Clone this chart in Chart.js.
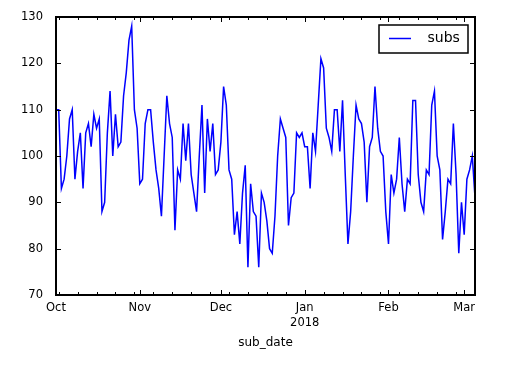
<!DOCTYPE html>
<html>
<head>
<meta charset="utf-8">
<script src="https://cdn.jsdelivr.net/npm/chart.js@4.4.1/dist/chart.umd.min.js"></script>
<style>
  html, body { margin: 0; padding: 0; background: #fff; }
  #wrap { width: 505px; height: 367px; }
</style>
</head>
<body>
<div id="wrap"><canvas id="chart" width="505" height="367"></canvas></div>
<script>
// daily subs, starting 2017-10-01 (day 0) through 2018-03-05 (day 155)
const subs = [
  110, 110, 93, 95, 100, 108, 110, 95, 101, 105,
  93, 105, 107, 102, 109, 106, 108, 88, 90, 105,
  114, 100, 109, 102, 103, 113, 118, 125, 128, 110,
  106, 94, 95, 107, 110, 110, 103, 97, 93, 87,
  100, 113, 107, 104, 84, 97, 95, 107, 99, 107,
  96, 92, 88, 100, 111, 92, 108, 101, 107, 96,
  97, 103, 115, 111, 97, 95, 83, 88, 81, 92,
  98, 76, 94, 88, 87, 76, 92, 90, 86, 80,
  79, 87, 100, 108, 106, 104, 85, 91, 92, 105,
  104, 105, 102, 102, 93, 105, 101, 111, 121, 119,
  106, 104, 101, 110, 110, 101, 112, 96, 81, 88,
  100, 111, 108, 107, 103, 90, 102, 104, 115, 106,
  101, 100, 88, 81, 96, 92, 95, 104, 94, 88,
  95, 94, 112, 112, 96, 90, 88, 97, 96, 111,
  114, 100, 97, 82, 88, 95, 94, 107, 96, 79,
  90, 83, 95, 97, 100, 91
];

// x ticks: day offsets of month starts and of Mondays
const monthTicks = [0, 31, 61, 92, 123, 151];
const monthLabels = [['Oct'], ['Nov'], ['Dec'], ['Jan', '2018'], ['Feb'], ['Mar']];
const weekTicks = [1, 8, 15, 22, 29, 36, 43, 50, 57, 64, 71, 78, 85, 92, 99, 106, 113, 120, 127, 134, 141, 148, 155];
const yTicks = [70, 80, 90, 100, 110, 120, 130];

const points = subs.map((v, i) => ({ x: i, y: v }));
const tickFont = { family: 'DejaVu Sans', size: 11.5, lineHeight: 1.27 };

// black frame + inward tick marks, matplotlib classic style
const frameTicks = {
  id: 'frameTicks',
  afterDraw(chart) {
    const { ctx, chartArea: a, scales } = chart;
    const L = Math.round(a.left), R = Math.round(a.right);
    const T = Math.round(a.top), B = Math.round(a.bottom);
    ctx.save();
    ctx.strokeStyle = '#000';
    ctx.lineWidth = 2;
    ctx.strokeRect(L, T, R - L, B - T);
    ctx.lineWidth = 1;
    ctx.beginPath();
    monthTicks.forEach(v => {
      const x = Math.round(scales.x.getPixelForValue(v)) + 0.5;
      ctx.moveTo(x, B); ctx.lineTo(x, B - 5);
      ctx.moveTo(x, T); ctx.lineTo(x, T + 5);
    });
    weekTicks.forEach(v => {
      const x = Math.round(scales.x.getPixelForValue(v)) + 0.5;
      ctx.moveTo(x, B); ctx.lineTo(x, B - 3);
      ctx.moveTo(x, T); ctx.lineTo(x, T + 3);
    });
    yTicks.forEach(v => {
      const y = Math.round(scales.y.getPixelForValue(v)) + 0.5;
      ctx.moveTo(L, y); ctx.lineTo(L + 5, y);
      ctx.moveTo(R, y); ctx.lineTo(R - 5, y);
    });
    ctx.stroke();
    ctx.restore();
  }
};

// legend box in the upper right of the axes
const boxLegend = {
  id: 'boxLegend',
  afterDraw(chart) {
    const { ctx, chartArea: a } = chart;
    const ds = chart.data.datasets[0];
    const w = 89, h = 28;
    const x0 = Math.round(a.right) - 7 - w;
    const y0 = Math.round(a.top) + 8;
    ctx.save();
    ctx.fillStyle = '#fff';
    ctx.fillRect(x0, y0, w, h);
    ctx.strokeStyle = '#000';
    ctx.lineWidth = 1.5;
    ctx.strokeRect(x0, y0, w, h);
    ctx.strokeStyle = ds.borderColor;
    ctx.lineWidth = ds.borderWidth;
    ctx.beginPath();
    ctx.moveTo(x0 + 10, y0 + 13.5);
    ctx.lineTo(x0 + 32, y0 + 13.5);
    ctx.stroke();
    ctx.fillStyle = '#000';
    ctx.font = '14px "DejaVu Sans"';
    ctx.textBaseline = 'middle';
    ctx.fillText(ds.label, x0 + 48.5, y0 + 13.5);
    ctx.restore();
  }
};

new Chart(document.getElementById('chart'), {
  type: 'line',
  data: {
    datasets: [{
      label: 'subs',
      data: points,
      borderColor: '#0000ff',
      borderWidth: 1.5,
      pointRadius: 0,
      tension: 0,
      fill: false
    }]
  },
  options: {
    responsive: false,
    animation: false,
    layout: { padding: { top: 17, right: 30, left: 0, bottom: 0 } },
    plugins: { legend: { display: false }, tooltip: { enabled: false } },
    scales: {
      x: {
        type: 'linear',
        min: 0,
        max: subs.length - 1,
        grid: { display: false },
        border: { display: false },
        afterBuildTicks: s => { s.ticks = monthTicks.map(v => ({ value: v })); },
        afterFit: s => { s.height = 72; },
        ticks: {
          autoSkip: false,
          maxRotation: 0,
          padding: -2,
          color: '#000',
          font: tickFont,
          callback: v => monthLabels[monthTicks.indexOf(v)]
        },
        title: {
          display: true,
          text: 'sub_date',
          color: '#000',
          font: { family: 'DejaVu Sans', size: 12 },
          padding: { top: 0, bottom: 17 }
        }
      },
      y: {
        min: 70,
        max: 130,
        grid: { display: false },
        border: { display: false },
        afterBuildTicks: s => { s.ticks = yTicks.map(v => ({ value: v })); },
        afterFit: s => { s.width = 56; },
        ticks: { padding: 5, color: '#000', font: tickFont }
      }
    }
  },
  plugins: [frameTicks, boxLegend]
});
</script>
</body>
</html>
